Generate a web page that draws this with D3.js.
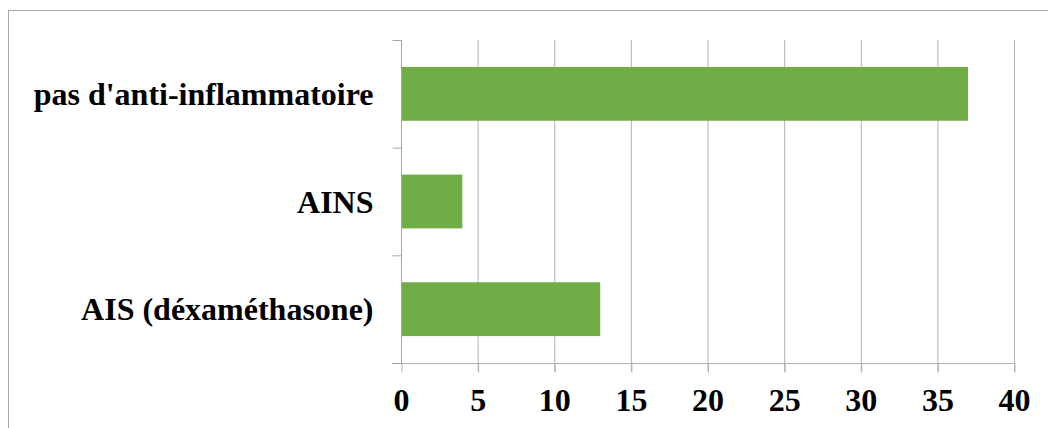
<!DOCTYPE html>
<html><head><meta charset="utf-8">
<script src="https://cdn.jsdelivr.net/npm/d3@7"></script>
<style>body{margin:0;background:#fff}svg{display:block}</style>
</head><body>
<svg id="c" width="1048" height="428"></svg>
<script>
const categories = ["pas d'anti-inflammatoire", "AINS", "AIS (déxaméthasone)"];
const values = [37, 4, 13];
const xTicks = [0, 5, 10, 15, 20, 25, 30, 35, 40];

const svg = d3.select("#c");
const m = {l: 401, r: 1014, t: 40, b: 363};
svg.append("rect").attr("x", 8.5).attr("y", 10.5).attr("width", 1100).attr("height", 500)
  .attr("fill", "none").attr("stroke", "#a6a6a6").attr("stroke-width", 1);

const x = d3.scaleLinear().domain([0, 40]).range([m.l, m.r]);
const y = d3.scaleBand().domain(categories).range([m.t, m.b]).paddingInner(0.5).paddingOuter(0.25);

// gridlines
svg.append("g").selectAll("line").data(xTicks.slice(1)).join("line")
  .attr("x1", d => x(d) + 0.5).attr("x2", d => x(d) + 0.5)
  .attr("y1", m.t).attr("y2", m.b + 9)
  .attr("stroke", "#b3b3b3").attr("stroke-width", 1);

// bars
svg.append("g").selectAll("rect").data(values).join("rect")
  .attr("x", x(0)).attr("y", (d, i) => y(categories[i]))
  .attr("width", d => x(d) - x(0)).attr("height", y.bandwidth())
  .attr("fill", "#70ad47");

// x axis
const xa = svg.append("g").attr("transform", `translate(0,${m.b + 0.5})`)
  .call(d3.axisBottom(x).tickValues(xTicks).tickSize(9).tickSizeOuter(0).tickPadding(16));
xa.select(".domain").attr("stroke", "#b3b3b3").attr("d", `M${m.l - 9},0H${m.r + 0.5}`);
xa.selectAll(".tick line").attr("stroke", "#b3b3b3").attr("transform", "translate(0.5,0)");
xa.selectAll("text").attr("font-family", "'Liberation Serif', 'Times New Roman', serif")
  .attr("font-weight", "bold").attr("font-size", 32).attr("fill", "#000");

// y axis
const bandStarts = categories.map(c => y(c) - y.step() * y.paddingInner() / 2);
const ya = svg.append("g").attr("transform", `translate(${m.l + 0.5},0)`);
ya.append("line").attr("x1", 0).attr("x2", 0).attr("y1", m.t).attr("y2", m.b)
  .attr("stroke", "#a6a6a6");
ya.selectAll("line.t").data([...bandStarts, m.b]).join("line").attr("class","t")
  .attr("x1", -9).attr("x2", 0).attr("y1", (d,i) => i === 0 ? m.t + 0.5 : d + 0.5).attr("y2", (d,i) => i === 0 ? m.t + 0.5 : d + 0.5)
  .attr("stroke", "#a6a6a6");
ya.selectAll("text").data(categories).join("text")
  .attr("x", -28).attr("y", d => y(d) + y.bandwidth() / 2).attr("dy", "0.35em")
  .attr("text-anchor", "end")
  .attr("font-family", "'Liberation Serif', 'Times New Roman', serif")
  .attr("font-weight", "bold").attr("font-size", 32).attr("fill", "#000")
  .text(d => d);
</script>
</body></html>
